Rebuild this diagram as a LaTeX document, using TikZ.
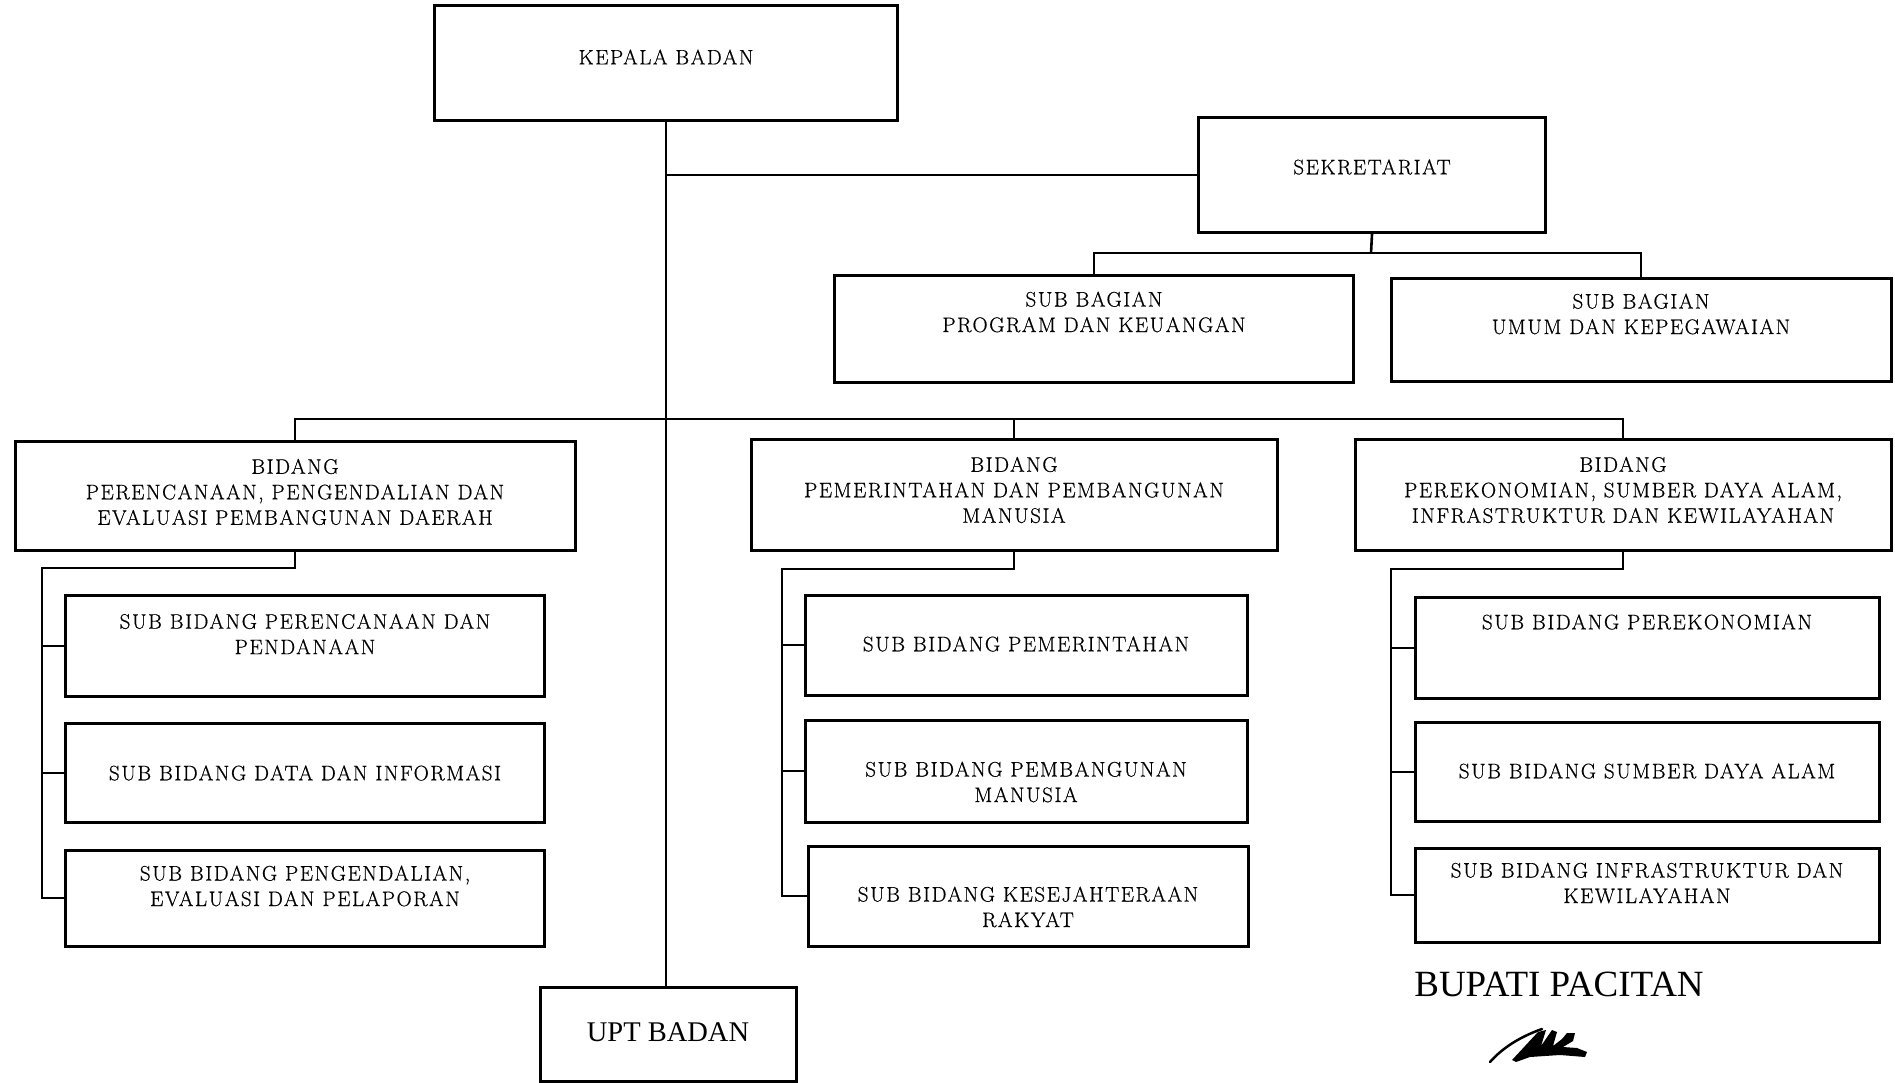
\documentclass[tikz,border=0pt]{standalone}
\usepackage{fontspec}
\newfontfamily\boxfont{Latin Modern Roman}[LetterSpace=7.5,FakeBold=0.6]
\newfontfamily\bupfont{Liberation Serif}
\usetikzlibrary{calc}
\begin{document}
\begin{tikzpicture}[x=1pt,y=-1pt,
  orgbox/.style={draw, line width=3pt, inner sep=0pt},
  lbl/.style={font=\boxfont\fontsize{21}{25.5}\selectfont, align=center, inner sep=0pt},
  conn/.style={line width=2.6pt},
  trunk/.style={line width=2.2pt}]
\useasboundingbox (0,0) rectangle (1895,1083);
\fill[white] (0,0) rectangle (1895,1083);

% top level
\node[orgbox,minimum width=463pt,minimum height=115pt] (kepala) at (666,63) {};
\node[lbl] (tkepala) at (666,57) {KEPALA BADAN};

\node[orgbox,minimum width=347pt,minimum height=115pt] (sek) at (1372,175) {};
\node[lbl] (tsek) at (1372,167) {SEKRETARIAT};

\node[orgbox,minimum width=519pt,minimum height=106pt] (spk) at (1094,329) {};
\node[lbl] (tspk) at (1094,312) {SUB BAGIAN\\PROGRAM DAN KEUANGAN};

\node[orgbox,minimum width=500pt,minimum height=103pt] (sum) at (1641,330) {};
\node[lbl] (tsum) at (1641,314) {SUB BAGIAN\\UMUM DAN KEPEGAWAIAN};

% bidang
\node[orgbox,minimum width=560pt,minimum height=109pt] (b1) at (295,496) {};
\node[lbl] (tb1) at (295,492) {BIDANG\\PERENCANAAN, PENGENDALIAN DAN\\EVALUASI PEMBANGUNAN DAERAH};

\node[orgbox,minimum width=526pt,minimum height=111pt] (b2) at (1014,495) {};
\node[lbl] (tb2) at (1014,490) {BIDANG\\PEMERINTAHAN DAN PEMBANGUNAN\\MANUSIA};

\node[orgbox,minimum width=536pt,minimum height=111pt] (b3) at (1623,495) {};
\node[lbl] (tb3) at (1623,490) {BIDANG\\PEREKONOMIAN, SUMBER DAYA ALAM,\\INFRASTRUKTUR DAN KEWILAYAHAN};

% left sub bidang
\node[orgbox,minimum width=479pt,minimum height=101pt] (l1) at (305,646) {};
\node[lbl] (tl1) at (305,634) {SUB BIDANG PERENCANAAN DAN\\PENDANAAN};
\node[orgbox,minimum width=479pt,minimum height=99pt] (l2) at (305,773) {};
\node[lbl] (tl2) at (305,773) {SUB BIDANG DATA DAN INFORMASI};
\node[orgbox,minimum width=479pt,minimum height=96pt] (l3) at (305,898) {};
\node[lbl] (tl3) at (305,886) {SUB BIDANG PENGENDALIAN,\\EVALUASI DAN PELAPORAN};

% middle sub bidang
\node[orgbox,minimum width=442pt,minimum height=100pt] (m1) at (1026,645) {};
\node[lbl] (tm1) at (1026,644) {SUB BIDANG PEMERINTAHAN};
\node[orgbox,minimum width=442pt,minimum height=102pt] (m2) at (1026,771) {};
\node[lbl] (tm2) at (1026,782) {SUB BIDANG PEMBANGUNAN\\MANUSIA};
\node[orgbox,minimum width=440pt,minimum height=100pt] (m3) at (1028,896) {};
\node[lbl] (tm3) at (1028,907) {SUB BIDANG KESEJAHTERAAN\\RAKYAT};

% right sub bidang
\node[orgbox,minimum width=464pt,minimum height=101pt] (r1) at (1647,648) {};
\node[lbl] (tr1) at (1647,622) {SUB BIDANG PEREKONOMIAN};
\node[orgbox,minimum width=464pt,minimum height=99pt] (r2) at (1647,772) {};
\node[lbl] (tr2) at (1647,771) {SUB BIDANG SUMBER DAYA ALAM};
\node[orgbox,minimum width=464pt,minimum height=94pt] (r3) at (1647,895) {};
\node[lbl] (tr3) at (1647,883) {SUB BIDANG INFRASTRUKTUR DAN\\KEWILAYAHAN};

% UPT
\node[orgbox,minimum width=256pt,minimum height=94pt] (upt) at (668,1034) {};
\node[font=\bupfont\fontsize{28.5}{32}\selectfont, inner sep=0pt] (tupt) at (668,1032) {UPT BADAN};

% Bupati
\node[font=\bupfont\fontsize{37}{42}\selectfont, inner sep=0pt] (bupati) at (1559,984) {BUPATI PACITAN};

% connectors
\draw[trunk] (kepala.south) -- (kepala.south |- upt.north);
\draw[conn] (kepala.south |- sek.west) -- (sek.west);

\coordinate (sekj) at (1371,253);
\draw[conn] (sek.south) -- (sekj);
\draw[conn] (spk.north) |- (sekj) -| (sum.north);

\coordinate (bus) at (666,419);
\draw[conn] (b1.north) |- (bus) -| (b3.north);
\draw[conn] (b2.north) -- (b2.north |- bus);

\coordinate (lsp) at (42,568);
\draw[conn] (b1.south) |- (lsp) |- (l3.west);
\draw[conn] (lsp |- l1.west) -- (l1.west);
\draw[conn] (lsp |- l2.west) -- (l2.west);

\coordinate (msp) at (782,569);
\draw[conn] (b2.south) |- (msp) |- (m3.west);
\draw[conn] (msp |- m1.west) -- (m1.west);
\draw[conn] (msp |- m2.west) -- (m2.west);

\coordinate (rsp) at (1391,569);
\draw[conn] (b3.south) |- (rsp) |- (r3.west);
\draw[conn] (rsp |- r1.west) -- (r1.west);
\draw[conn] (rsp |- r2.west) -- (r2.west);

% signature
\draw[line width=2.5pt, line cap=round] (1490,1062) .. controls (1505,1045) and (1525,1035) .. (1542,1029);
\fill (1512,1060) -- (1538,1032) -- (1546,1030) -- (1541,1046) -- (1552,1030) -- (1557,1032) -- (1553,1046)
  -- (1562,1039) -- (1567,1033) -- (1575,1033) -- (1573,1041) -- (1563,1047) -- (1577,1048) -- (1587,1052)
  -- (1585,1057) -- (1560,1055) -- (1530,1057) -- (1516,1062) -- cycle;
\end{tikzpicture}
\end{document}
